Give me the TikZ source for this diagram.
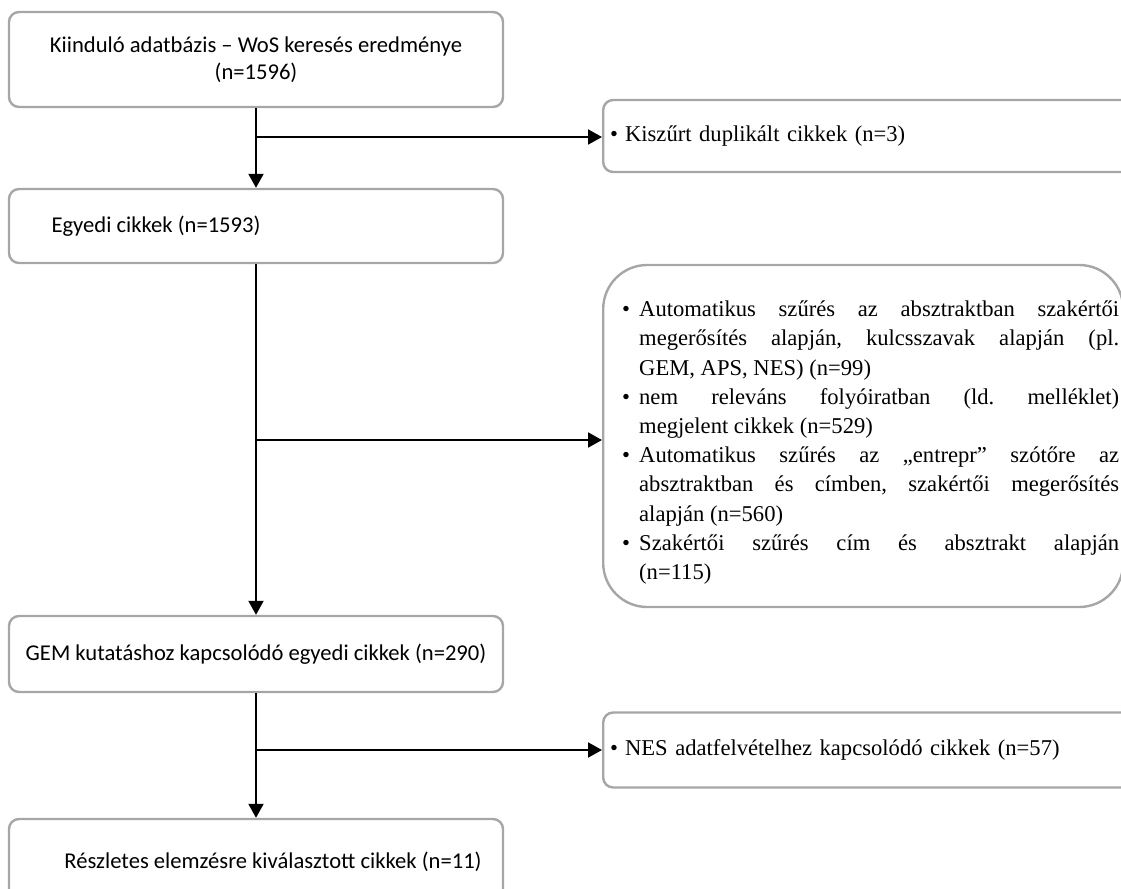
\documentclass[tikz,border=0pt]{standalone}
\usepackage{fontspec}
\setmainfont{Liberation Serif}
\newfontfamily\calibri{Carlito}
\usetikzlibrary{arrows.meta,calc,positioning}
\definecolor{boxgray}{RGB}{166,166,166}
\frenchspacing
\newcommand\bitem{\par\hangindent=8.5pt\hangafter=1\noindent\makebox[8.5pt][l]{\textbullet}}
\tikzset{
	leftbox/.style={draw=boxgray, line width=1.2pt, rounded corners=5pt, minimum width=247pt, align=center, font=\calibri\fontsize{11.3}{13.5}\selectfont},
	rightbox/.style={draw=boxgray, line width=1.2pt, rounded corners=5pt, anchor=west, align=left, inner xsep=3.5pt, text width=262pt, font=\fontsize{11.3}{14.6}\selectfont},
	flow/.style={line width=1pt, -{Triangle[length=7pt,width=7.5pt]}},
}

\begin{document}
\begin{tikzpicture}[x=0.5pt, y=-0.5pt]
			%%%%% START %%%%%
			\useasboundingbox (0, 0) rectangle (1121, 889);
			\clip (0, 0) rectangle (1121, 889);
			
			% main column
			\node[leftbox, minimum height=47.5pt] (start) at (256, 59.5) {Kiinduló adatbázis – WoS keresés eredménye\\(n=1596)};
			\node[leftbox, minimum height=37pt] (unique) at (256, 226) {Egyedi cikkek (n=1593)\hspace*{100pt}};
			\node[leftbox, minimum height=38pt] (gem) at (256, 654) {GEM kutatáshoz kapcsolódó egyedi cikkek (n=290)};
			\node[leftbox, minimum height=43pt] (final) at (256, 862) {\hspace*{17pt}Részletes elemzésre kiválasztott cikkek (n=11)};
			
			% excluded records
			\node[rightbox, minimum height=36pt] (dupl) at (602, 136) {\textbullet\hspace{3.5pt}Kiszűrt duplikált cikkek (n=3)};
			\node[rightbox, minimum height=171pt, text width=256pt, inner xsep=2pt, rounded corners=22pt, align=justify] (filter) at (602, 436) {%
				\leftskip=7.5pt\hyphenpenalty=10000
				\bitem Automatikus szűrés az absztraktban szakértői\linebreak megerősítés alapján, kulcsszavak alapján (pl.\linebreak GEM, APS, NES) (n=99)
				\bitem nem releváns folyóiratban (ld. melléklet)\linebreak megjelent cikkek (n=529)
				\bitem Automatikus szűrés az „entrepr” szótőre az\linebreak absztraktban és címben, szakértői megerősítés\linebreak alapján (n=560)
				\bitem Szakértői szűrés cím és absztrakt alapján\linebreak (n=115)\par};
			\node[rightbox, minimum height=37.5pt] (nes) at (602, 750) {\textbullet\hspace{3.5pt}NES adatfelvételhez kapcsolódó cikkek (n=57)};
			
			% arrows
			\draw[flow] (start) -- (unique);
			\draw[flow] (unique) -- (gem);
			\draw[flow] (gem) -- (final);
			
			\coordinate (br1) at (256, 137);
			\coordinate (br2) at (256, 440);
			\coordinate (br3) at (256, 750);
			\draw[flow] (br1) -- (br1 -| dupl.west);
			\draw[flow] (br2) -- (br2 -| filter.west);
			\draw[flow] (br3) -- (br3 -| nes.west);
			
			%%%%% END %%%%%
\end{tikzpicture}
\end{document}
